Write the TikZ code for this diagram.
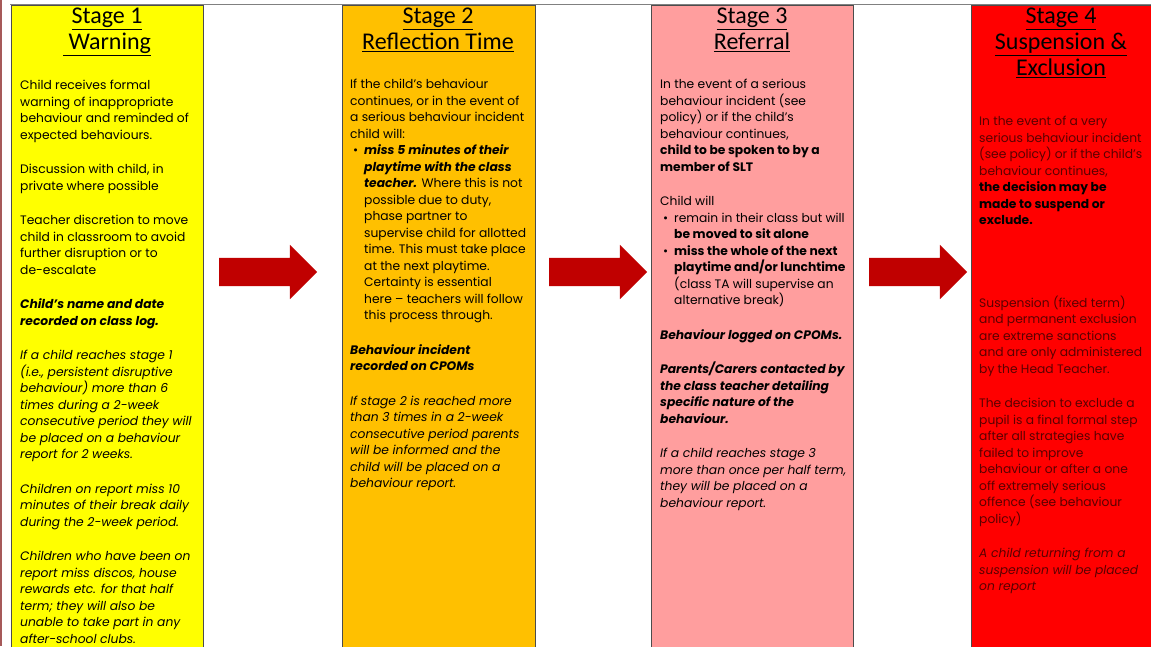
\documentclass[tikz,border=0pt]{standalone}
\usepackage{fontspec}
\setmainfont{Poppins}
\newfontfamily\headfont{Carlito}
\usepackage{tikz}
\usetikzlibrary{shapes.arrows,positioning}
\definecolor{stageone}{HTML}{FFFF00}
\definecolor{stagetwo}{HTML}{FFC000}
\definecolor{stagethree}{HTML}{FF9E9E}
\definecolor{stagefour}{HTML}{FF0000}
\definecolor{arrowred}{HTML}{C00000}
\definecolor{darkred}{HTML}{5A0000}
\newcommand\stagegap{\par\vspace{18pt}}
\newcommand\stagebullet{\par\noindent\hangindent=14pt\hangafter=0\llap{\textbullet\hspace{6pt}}}
\newcommand\keytext[1]{{\bfseries\itshape #1}}
\newcommand\bodyfont{\fontsize{12.3}{16.5}\selectfont\hyphenpenalty=10000\relax\exhyphenpenalty=10000\relax}

\begin{document}
\begin{tikzpicture}[x=1pt,y=-1pt,
		column/.style={draw=gray!60!black,line width=0.5pt,inner sep=0pt,anchor=north west},
		stagehead/.style={anchor=north,align=center,inner sep=0pt,font=\headfont\fontsize{24}{26}\selectfont},
		stagebody/.style={anchor=north west,align=flush left,inner sep=0pt,font=\bodyfont},
		stagearrow/.style={single arrow,fill=arrowred,draw=none,inner sep=14pt,single arrow head extend=13pt,minimum height=98pt}]
		\useasboundingbox (0,0) rectangle (1151,646);
		\fill[white] (0,0) rectangle (1151,646);
		\draw[gray,line width=0.8pt] (10,4) -- (1151,4);
		\draw[color=red!30!gray,line width=2pt] (1,0) -- (1,646);
		% the four stages
		\node (col1) [column,fill=stageone,minimum width=192pt,minimum height=642pt] at (11,5) {};
		\node (col2) [column,fill=stagetwo,minimum width=193pt,minimum height=642pt] at (342,5) {};
		\node (col3) [column,fill=stagethree,minimum width=202pt,minimum height=642pt] at (651,5) {};
		\node (col4) [column,fill=stagefour,minimum width=182pt,minimum height=642pt] at (971,5) {};
		\node (head1) [stagehead] at (107,8) {\underline{Stage 1}\\\underline{\ Warning}};
		\node (head2) [stagehead] at (438,8) {\underline{Stage 2}\\\underline{Reflection Time}};
		\node (head3) [stagehead] at (752,8) {\underline{Stage 3}\\\underline{Referral}};
		\node (head4) [stagehead] at (1061,8) {\underline{Stage 4}\\\underline{Suspension \&}\\\underline{Exclusion}};
		\node (body1) [stagebody,text width=177pt] at (20,80) {Child receives formal warning of inappropriate behaviour and reminded of expected behaviours.
			\stagegap Discussion with child, in private where possible
			\stagegap Teacher discretion to move child in classroom to avoid further disruption or to de-escalate
			\stagegap \keytext{Child's name and date recorded on class log.}
			\stagegap \itshape If a child reaches stage 1 (i.e., persistent disruptive behaviour) more than 6 times during a 2-week consecutive period they will be placed on a behaviour report for 2 weeks.
			\stagegap Children on report miss 10 minutes of their break daily during the 2-week period.
			\stagegap Children who have been on report miss discos, house rewards etc. for that half term; they will also be unable to take part in any after-school clubs.};
		\node (body2) [stagebody,text width=176pt] at (350,79) {If the child's behaviour continues, or in the event of a serious behaviour incident child will:
			\stagebullet \keytext{miss 5 minutes of their playtime with the class teacher.} Where this is not possible due to duty, phase partner to supervise child for allotted time. This must take place at the next playtime. Certainty is essential here~-- teachers will follow this process through.
			\stagegap \keytext{Behaviour incident recorded on CPOMs}
			\stagegap \itshape If stage 2 is reached more than 3 times in a 2-week consecutive period parents will be informed and the child will be placed on a behaviour report.};
		\node (body3) [stagebody,text width=190pt] at (660,79) {In the event of a serious behaviour incident (see policy) or if the child's behaviour continues,\\
			\textbf{child to be spoken to by a member of SLT}
			\stagegap Child will
			\stagebullet remain in their class but will \textbf{be moved to sit alone}
			\stagebullet \textbf{miss the whole of the next playtime and/or lunchtime} (class TA will supervise an alternative break)
			\stagegap \keytext{Behaviour logged on CPOMs.}
			\stagegap \keytext{Parents/Carers contacted by the class teacher detailing specific nature of the behaviour.}
			\stagegap \itshape If a child reaches stage 3 more than once per half term, they will be placed on a behaviour report.};
		\node (body4) [stagebody,text width=163pt,text=darkred] at (979,116) {In the event of a very serious behaviour incident (see policy) or if the child's behaviour continues,\\
			\textcolor{black}{\bfseries the decision may be made to suspend or exclude.}
			\stagegap\vspace{48pt} Suspension (fixed term) and permanent exclusion are extreme sanctions and are only administered by the Head Teacher.
			\stagegap The decision to exclude a pupil is a final formal step after all strategies have failed to improve behaviour or after a one off extremely serious offence (see behaviour policy)
			\stagegap \itshape A child returning from a suspension will be placed on report};
		% arrows between the stages
		\node (arr1) [stagearrow] at (261,272) {};
		\node (arr2) [stagearrow] at (591,272) {};
		\node (arr3) [stagearrow] at (911,272) {};
\end{tikzpicture}
\end{document}
